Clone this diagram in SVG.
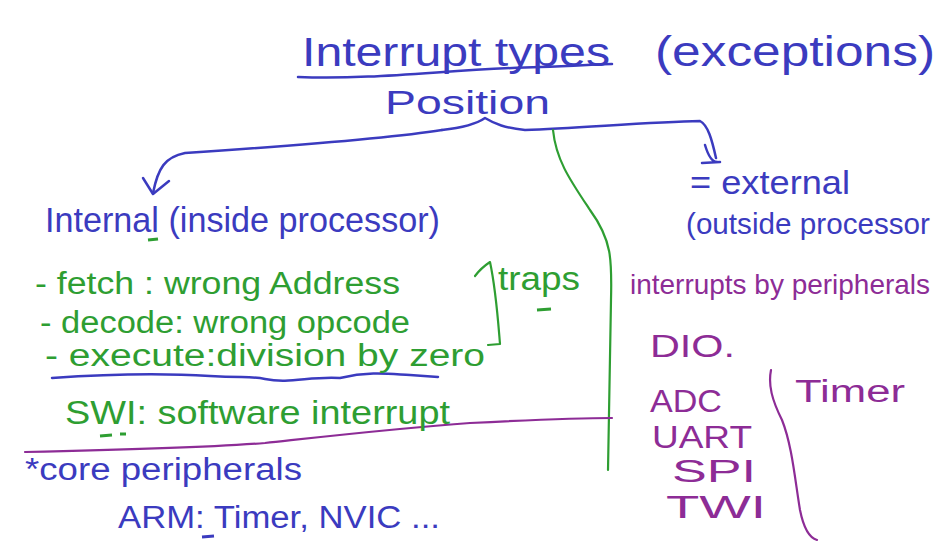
<svg xmlns="http://www.w3.org/2000/svg" width="942" height="545" viewBox="0 0 942 545">
<style>
text{font-family:"Liberation Sans","DejaVu Sans",sans-serif;}
.b{fill:#3b3bbf;}
.g{fill:#2e9e32;}
.p{fill:#8d2c96;}
.sb{stroke:#3b3bbf;fill:none;stroke-width:2.5;stroke-linecap:round;stroke-linejoin:round;}
.sg{stroke:#2e9e32;fill:none;stroke-width:2.2;stroke-linecap:round;stroke-linejoin:round;}
.sp{stroke:#8d2c96;fill:none;stroke-width:2.2;stroke-linecap:round;stroke-linejoin:round;}
</style>
<rect width="942" height="545" fill="#ffffff"/>
<g id="title">
<text class="b" x="302" y="66" font-size="40" textLength="308" lengthAdjust="spacingAndGlyphs">Interrupt types</text>
<path class="sb" d="M298,77 C380,80 450,69 540,67 C575,66 600,64 612,64"/>
<text class="b" x="655" y="66" font-size="42" textLength="280" lengthAdjust="spacingAndGlyphs">(exceptions)</text>
</g>
<g id="position">
<text class="b" x="385" y="114" font-size="34" textLength="165" lengthAdjust="spacingAndGlyphs">Position</text>
</g>
<g id="connectors">
<path class="sb" d="M442,130 C460,128 475,125 485,118 C495,124 505,128 525,130 C580,128 650,122 700,121 C708,125 712,140 716,158"/>
<path class="sb" d="M705,145 C708,155 712,162 717,162 M702,163 L720,162"/>
<path class="sb" d="M442,130 C380,140 260,148 185,153 C165,157 158,168 153,193"/>
<path class="sb" d="M143,178 L153,194 L169,181"/>
<path class="sg" d="M553,130 C556,160 570,180 590,210 C612,240 612,260 611,300 L608,470"/>
<path class="sp" d="M25,452 C120,450 200,448 265,443 C330,436 400,428 470,423 C530,420 580,418 612,418"/>
<path class="sb" d="M52,378 C110,374 160,373 210,376 C245,378 250,376 265,379 C290,384 310,376 340,378 C370,371 390,374 410,375 L438,377"/>
</g>
<g id="internal">
<text class="b" x="45" y="232" font-size="35" textLength="395" lengthAdjust="spacingAndGlyphs">Internal (inside processor)</text>
<path d="M148,240 L158,239" stroke="#2e9e32" stroke-width="3" fill="none"/>
</g>
<g id="traps-list">
<text class="g" x="35" y="294" font-size="31" textLength="365" lengthAdjust="spacingAndGlyphs">- fetch : wrong Address</text>
<text class="g" x="40" y="333" font-size="31" textLength="370" lengthAdjust="spacingAndGlyphs">- decode: wrong opcode</text>
<text class="g" x="45" y="366" font-size="31" textLength="440" lengthAdjust="spacingAndGlyphs">- execute:division by zero</text>
<path class="sg" d="M488,345 L500,344 C498,320 496,290 490,262 C484,266 478,272 475,276"/>
<text class="g" x="498" y="290" font-size="34" textLength="82" lengthAdjust="spacingAndGlyphs">traps</text>
<path d="M537,310 L551,309" stroke="#2e9e32" stroke-width="3" fill="none"/>
</g>
<g id="swi">
<text class="g" x="65" y="424" font-size="33" textLength="385" lengthAdjust="spacingAndGlyphs">SWI: software interrupt</text>
<path d="M100,436 L112,435 M120,434 L126,434" stroke="#2e9e32" stroke-width="3" fill="none"/>
</g>
<g id="core">
<text class="b" x="25" y="480" font-size="31" textLength="277" lengthAdjust="spacingAndGlyphs">*core peripherals</text>
<text class="b" x="118" y="528" font-size="31" textLength="322" lengthAdjust="spacingAndGlyphs">ARM: Timer, NVIC ...</text>
<path d="M202,537 L214,536" stroke="#3b3bbf" stroke-width="3" fill="none"/>
</g>
<g id="external">
<text class="b" x="690" y="194" font-size="33" textLength="160" lengthAdjust="spacingAndGlyphs">= external</text>
<text class="b" x="686" y="234" font-size="30" textLength="244" lengthAdjust="spacingAndGlyphs">(outside processor</text>
</g>
<g id="peripherals">
<text class="p" x="630" y="294" font-size="28" textLength="300" lengthAdjust="spacingAndGlyphs">interrupts by peripherals</text>
<text class="p" x="650" y="357" font-size="31" textLength="85" lengthAdjust="spacingAndGlyphs">DIO.</text>
<text class="p" x="650" y="412" font-size="31" textLength="72" lengthAdjust="spacingAndGlyphs">ADC</text>
<text class="p" x="652" y="448" font-size="31" textLength="100" lengthAdjust="spacingAndGlyphs">UART</text>
<text class="p" x="672" y="482" font-size="31" textLength="84" lengthAdjust="spacingAndGlyphs">SPI</text>
<text class="p" x="666" y="518" font-size="31" textLength="100" lengthAdjust="spacingAndGlyphs">TWI</text>
<path class="sp" d="M771,370 C768,385 772,400 782,420 C792,445 795,480 800,510 C804,530 810,538 817,540"/>
<text class="p" x="795" y="402" font-size="31" textLength="110" lengthAdjust="spacingAndGlyphs">Timer</text>
</g>
</svg>
